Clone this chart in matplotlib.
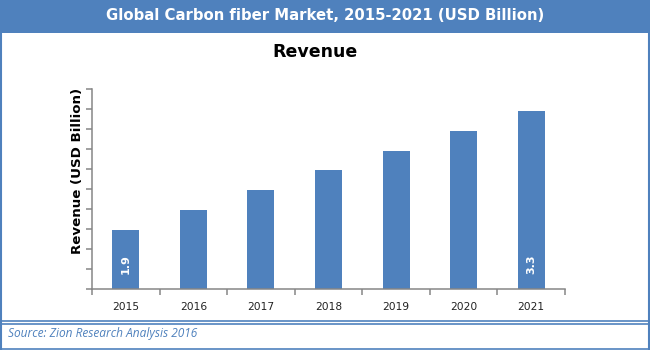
import numpy as np
import matplotlib
matplotlib.use("Agg")
import matplotlib.pyplot as plt
from matplotlib.patches import Rectangle
from matplotlib.lines import Line2D

years = ["2015", "2016", "2017", "2018", "2019", "2020", "2021"]
revenue = [1.9, 2.14, 2.37, 2.61, 2.83, 3.06, 3.3]
shown_labels = {0: "1.9", 6: "3.3"}

blue = "#4F81BD"
grey = "#868686"

fig = plt.figure(figsize=(6.5, 3.5), dpi=100)
W, H = 650.0, 350.0

def fx(px):
    return px / W

def fy(py):
    return 1 - py / H

# header banner
fig.patches.append(Rectangle((0, fy(33)), 1, 33 / H, transform=fig.transFigure,
                             facecolor=blue, edgecolor="none", zorder=0))
fig.text(0.5, fy(16), "Global Carbon fiber Market, 2015-2021 (USD Billion)",
         color="white", fontsize=10.7, fontweight="bold", ha="center", va="center")

# frame around chart area and footer
for x in (1, 648.5):
    fig.lines.append(Line2D([fx(x), fx(x)], [fy(33), fy(349)], transform=fig.transFigure,
                            color=blue, lw=1.5))
for y in (321, 324, 348.5):
    fig.lines.append(Line2D([fx(0), fx(650)], [fy(y), fy(y)], transform=fig.transFigure,
                            color=blue, lw=1.2))
fig.text(fx(8), fy(334), "Source: Zion Research Analysis 2016", color=blue,
         fontsize=8.6, fontstyle="italic", family="Open Sans", ha="left", va="center")

fig.text(fx(315), fy(52), "Revenue", fontsize=12.5, fontweight="bold",
         ha="center", va="center", color="black")

# y label sits a bit above the axis middle, as in the original
fig.text(fx(77), fy(171), "Revenue (USD Billion)", fontsize=9.6, fontweight="bold",
         rotation=90, ha="center", va="center", color="black")

ax = fig.add_axes([fx(92), fy(289), (565 - 92) / W, (289 - 89) / H])
x = np.arange(len(years))
ax.bar(x, revenue, width=0.4, color=blue, zorder=2)

ymin, ymax = 1.206, 3.559
ax.set_ylim(ymin, ymax)
ax.set_xlim(-0.5, len(years) - 0.5)

ax.set_yticks(np.linspace(ymin, ymax, 11))
ax.set_yticklabels([])
ax.set_xticks(x)
ax.set_xticklabels(years, fontsize=7.7, color="#222222")
ax.set_xticks(np.arange(-0.5, len(years)), minor=True)
ax.tick_params(axis="x", which="major", length=0, pad=9)
ax.tick_params(axis="x", which="minor", length=4, width=1.1, color=grey)
ax.tick_params(axis="y", length=4, width=1.1, color=grey)

for s in ("top", "right"):
    ax.spines[s].set_visible(False)
for s in ("left", "bottom"):
    ax.spines[s].set_color(grey)
    ax.spines[s].set_linewidth(1.1)

for i, txt in shown_labels.items():
    ax.annotate(txt, xy=(x[i], ymin), xytext=(0, 18), textcoords="offset points",
                rotation=90, color="white", fontsize=8, fontweight="bold",
                ha="center", va="center")

fig.savefig("out.png", dpi=100)
